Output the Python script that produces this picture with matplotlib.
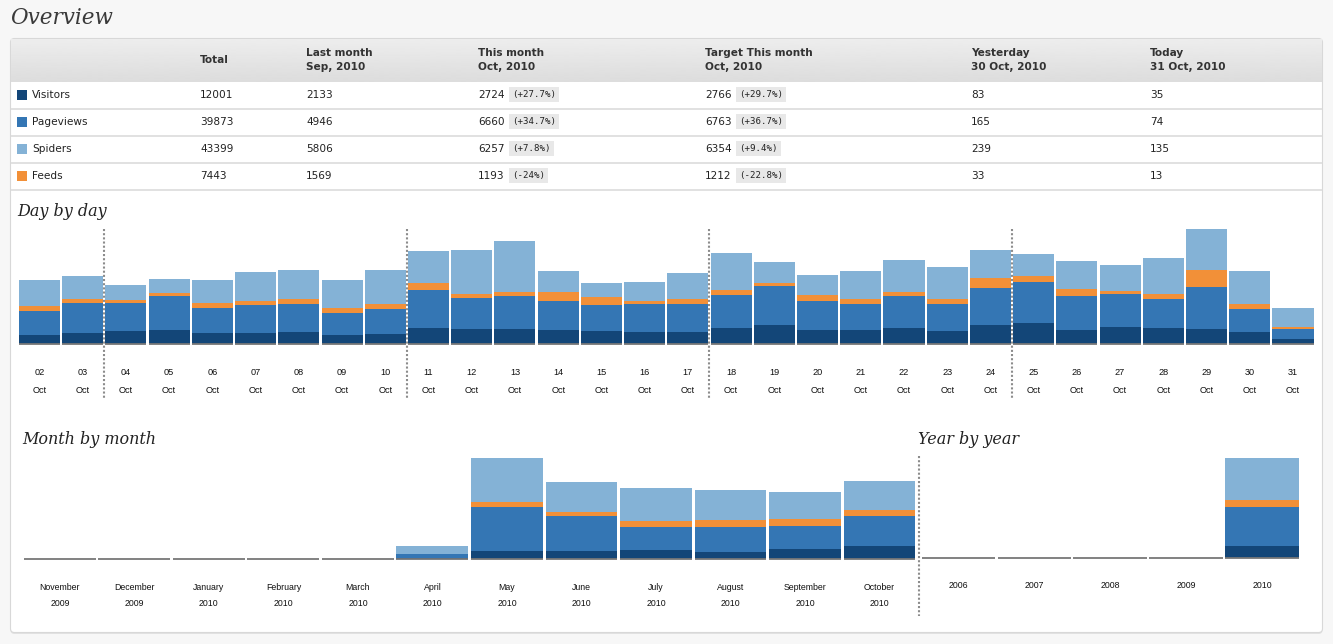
import matplotlib
matplotlib.use("Agg")
import matplotlib.pyplot as plt
from matplotlib import transforms
from matplotlib.patches import Rectangle, FancyBboxPatch
import numpy as np

W, H = 1333, 644

# ---- table data ----
series = ["Visitors", "Pageviews", "Spiders", "Feeds"]
total = [12001, 39873, 43399, 7443]
last_month = [2133, 4946, 5806, 1569]
this_month = [2724, 6660, 6257, 1193]
this_month_pct = ["(+27.7%)", "(+34.7%)", "(+7.8%)", "(-24%)"]
target_month = [2766, 6763, 6354, 1212]
target_month_pct = ["(+29.7%)", "(+36.7%)", "(+9.4%)", "(-22.8%)"]
yesterday = [83, 165, 239, 33]
today = [35, 74, 135, 13]

# ---- day by day (Oct 2010) ----
days = ["02", "03", "04", "05", "06", "07", "08", "09", "10", "11",
        "12", "13", "14", "15", "16", "17", "18", "19", "20", "21",
        "22", "23", "24", "25", "26", "27", "28", "29", "30", "31"]
day_visitors = [64, 78, 92, 99, 78, 78, 85, 64, 71, 116,
                109, 109, 99, 92, 85, 85, 114, 135, 99, 99,
                114, 92, 135, 149, 99, 121, 114, 107, 83, 35]
day_pageviews = [170, 213, 199, 241, 178, 199, 199, 156, 178, 268,
                 218, 232, 206, 185, 199, 199, 234, 277, 206, 185,
                 227, 192, 263, 291, 241, 234, 206, 298, 165, 74]
day_feeds = [38, 28, 23, 21, 36, 28, 36, 38, 38, 48,
             31, 31, 66, 57, 21, 36, 36, 21, 43, 36,
             31, 36, 73, 43, 50, 21, 38, 121, 33, 13]
day_spiders = [182, 163, 104, 99, 163, 206, 206, 197, 239, 229,
               310, 360, 147, 99, 135, 185, 263, 149, 142, 199,
               225, 227, 197, 156, 199, 185, 253, 291, 239, 135]
week_ends = ["03", "10", "17", "24"]

# ---- month by month ----
months = ["November", "December", "January", "February", "March", "April",
          "May", "June", "July", "August", "September", "October"]
month_years = ["2009", "2009", "2010", "2010", "2010", "2010",
               "2010", "2010", "2010", "2010", "2010", "2010"]
month_visitors = [0, 0, 0, 0, 0, 150, 1750, 1800, 1950, 1550, 2133, 2724]
month_pageviews = [0, 0, 0, 0, 0, 850, 9550, 7400, 5000, 5450, 4946, 6660]
month_feeds = [0, 0, 0, 0, 0, 30, 1050, 900, 1300, 1400, 1569, 1193]
month_spiders = [0, 0, 0, 0, 0, 1770, 9460, 6534, 6974, 6600, 5806, 6257]

# ---- year by year ----
years = ["2006", "2007", "2008", "2009", "2010"]
year_visitors = [0, 0, 0, 0, 12001]
year_pageviews = [0, 0, 0, 0, 39873]
year_feeds = [0, 0, 0, 0, 7443]
year_spiders = [0, 0, 0, 0, 43399]

c_vis = "#134678"
c_pv = "#3476b4"
c_spi = "#84b2d6"
c_feed = "#f29038"
series_colors = [c_vis, c_pv, c_spi, c_feed]

label_font = "Liberation Sans"
table_font = "DejaVu Sans"
title_font = "DejaVu Serif"

fig = plt.figure(figsize=(W / 100, H / 100), dpi=100)
fig.patch.set_facecolor("#f7f7f7")

bg = fig.add_axes([0, 0, 1, 1], zorder=0)
bg.set_xlim(0, W)
bg.set_ylim(H, 0)
bg.axis("off")


def px_axes(x0, y0, x1, y1):
    a = fig.add_axes([x0 / W, 1 - y1 / H, (x1 - x0) / W, (y1 - y0) / H], zorder=2)
    a.set_facecolor("none")
    a.axis("off")
    return a


# card
bg.add_patch(FancyBboxPatch((10.5, 40), 1312, 594, boxstyle="round,pad=0,rounding_size=4",
                            fc="#e2e2e2", ec="none"))
bg.add_patch(FancyBboxPatch((10.5, 38.5), 1312, 594, boxstyle="round,pad=0,rounding_size=4",
                            fc="white", ec="#d8d8d8", lw=0.8))
grad = np.linspace(0.93, 0.865, 60)[:, None]
bg.imshow(grad, cmap="gray", vmin=0, vmax=1, aspect="auto",
          extent=(11, 1322, 81.5, 39), interpolation="bilinear", zorder=1)
bg.set_xlim(0, W)
bg.set_ylim(H, 0)
bg.hlines([108.5, 135.5, 162.5, 189.5], 11, 1322, color="#dcdcdc", lw=1.2)

bg.text(10, 18, "Overview", family=title_font, style="italic", fontsize=15.5,
        color="#3a3a3a", va="center", ha="left")

# header
hdr = dict(family=table_font, fontsize=7.6, fontweight="bold", color="#333333", va="center")
bg.text(200, 60, "Total", **hdr)
cols = [(306, "Last month", "Sep, 2010"), (478, "This month", "Oct, 2010"),
        (705, "Target This month", "Oct, 2010"), (971, "Yesterday", "30 Oct, 2010"),
        (1150, "Today", "31 Oct, 2010")]
for x, t1, t2 in cols:
    bg.text(x, 53, t1, **hdr)
    bg.text(x, 67, t2, **hdr)

cell = dict(family=table_font, fontsize=7.6, color="#222222", va="center")
badge = dict(family="DejaVu Sans Mono", fontsize=6.6, color="#222222", va="center",
             bbox=dict(boxstyle="square,pad=0.35", fc="#e8e8e8", ec="none"))
for i, name in enumerate(series):
    y = 94.5 + i * 27
    bg.add_patch(Rectangle((17, y - 5), 10, 10, fc=series_colors[i], ec="none"))
    bg.text(32, y, name, **cell)
    bg.text(200, y, str(total[i]), **cell)
    bg.text(306, y, str(last_month[i]), **cell)
    bg.text(478, y, str(this_month[i]), **cell)
    bg.text(512, y, this_month_pct[i], **badge)
    bg.text(705, y, str(target_month[i]), **cell)
    bg.text(739, y, target_month_pct[i], **badge)
    bg.text(971, y, str(yesterday[i]), **cell)
    bg.text(1150, y, str(today[i]), **cell)

# section titles
ttl = dict(family=title_font, style="italic", fontsize=11.5, color="#222222", va="center")
bg.text(17, 211, "Day by day", **ttl)
bg.text(22, 439, "Month by month", **ttl)
bg.text(918, 439, "Year by year", **ttl)


def stacked(ax, vis, pv, feed, spi, width):
    x = np.arange(len(vis))
    vis, pv, feed, spi = map(np.asarray, (vis, pv, feed, spi))
    ax.bar(x, vis, width, color=c_vis, lw=0)
    ax.bar(x, pv, width, bottom=vis, color=c_pv, lw=0)
    ax.bar(x, feed, width, bottom=vis + pv, color=c_feed, lw=0)
    ax.bar(x, spi, width, bottom=vis + pv + feed, color=c_spi, lw=0)
    ax.hlines(np.zeros(len(x)), x - width / 2, x + width / 2, color="#777777",
              lw=1.3, clip_on=False)
    ax.set_xlim(-0.5, len(vis) - 0.5)
    ax.set_ylim(0, (vis + pv + feed + spi).max())
    return x


dot = dict(colors="#8c8c8c", linestyles=[(0, (1, 1))], lw=1.5, clip_on=False)

# day by day
ax_d = px_axes(17.9, 229, 1314.6, 344)
xd = stacked(ax_d, day_visitors, day_pageviews, day_feeds, day_spiders, 0.95)
tr_d = transforms.blended_transform_factory(ax_d.transData, bg.transData)
for x, d in zip(xd, days):
    ax_d.text(x, 372, d, transform=tr_d, ha="center", va="center",
              family=label_font, fontsize=6.6, color="#111111")
    ax_d.text(x, 390, "Oct", transform=tr_d, ha="center", va="center",
              family=label_font, fontsize=6.6, color="#111111")
for d in week_ends:
    ax_d.vlines(days.index(d) + 0.5, 229, 399, transform=tr_d, **dot)

# month by month
ax_m = px_axes(22.6, 458, 916.8, 559)
xm = stacked(ax_m, month_visitors, month_pageviews, month_feeds, month_spiders, 0.965)
tr_m = transforms.blended_transform_factory(ax_m.transData, bg.transData)
for x, m, yr in zip(xm, months, month_years):
    ax_m.text(x, 587, m, transform=tr_m, ha="center", va="center",
              family=label_font, fontsize=6.3, color="#111111")
    ax_m.text(x, 604, yr, transform=tr_m, ha="center", va="center",
              family=label_font, fontsize=6.3, color="#111111")
ax_m.vlines(len(months) - 0.47, 456, 616, transform=tr_m, **dot)

# year by year
ax_y = px_axes(920.6, 458, 1300, 558)
xy = stacked(ax_y, year_visitors, year_pageviews, year_feeds, year_spiders, 0.97)
tr_y = transforms.blended_transform_factory(ax_y.transData, bg.transData)
for x, yr in zip(xy, years):
    ax_y.text(x, 586, yr, transform=tr_y, ha="center", va="center",
              family=label_font, fontsize=6.3, color="#111111")

fig.savefig("out.png", dpi=100, facecolor=fig.get_facecolor())
